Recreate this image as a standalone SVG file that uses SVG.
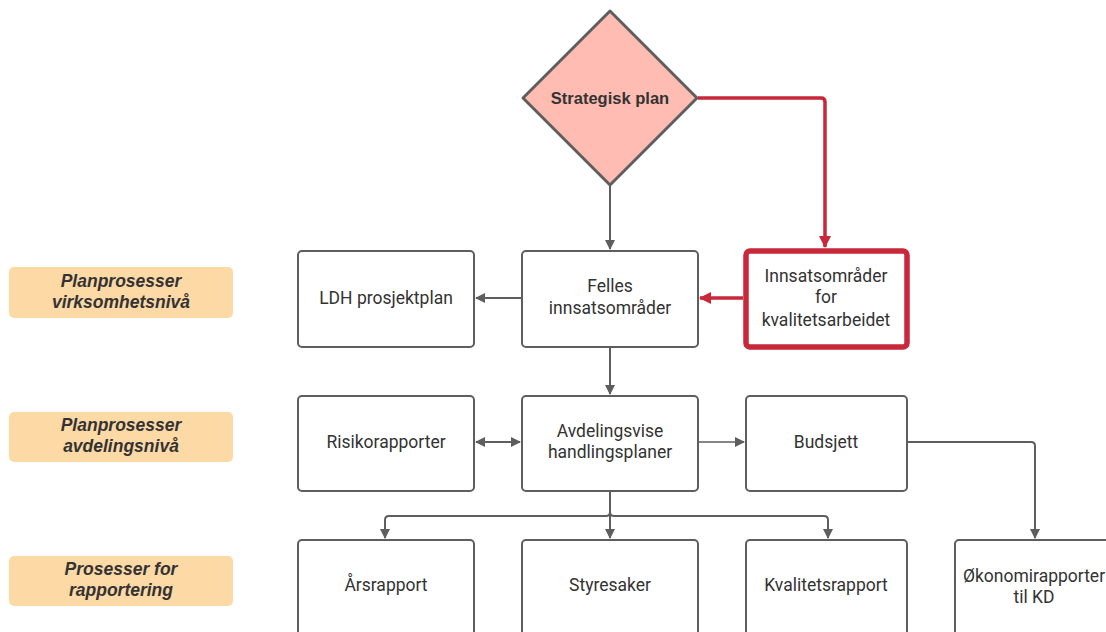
<svg xmlns="http://www.w3.org/2000/svg" width="1106" height="632" viewBox="0 0 1106 632">
<defs>
<style>
.box{fill:#fff;stroke:#5e5e5e;stroke-width:2}
.lab{fill:#fdd9a6;stroke:none}
.t{font-family:Roboto,"Liberation Sans",sans-serif;font-size:17.5px;fill:#333;text-anchor:middle}
.lt{font-family:"Liberation Sans",Arial,sans-serif;font-size:17.5px;font-weight:bold;font-style:italic;fill:#333;text-anchor:middle}
.c{fill:none;stroke:#5e5e5e;stroke-width:2}
.r{fill:none;stroke:#c8283a;stroke-width:3.5}
</style>
<marker id="a" markerWidth="10" markerHeight="10" refX="9" refY="5" orient="auto" markerUnits="userSpaceOnUse"><path d="M0,0 L10,5 L0,10 Z" fill="#5e5e5e"/></marker>
<marker id="as" markerWidth="10" markerHeight="10" refX="1" refY="5" orient="auto" markerUnits="userSpaceOnUse"><path d="M10,0 L0,5 L10,10 Z" fill="#5e5e5e"/></marker>
<marker id="ar" markerWidth="12" markerHeight="12" refX="11" refY="6" orient="auto" markerUnits="userSpaceOnUse"><path d="M0,0 L12,6 L0,12 Z" fill="#c8283a"/></marker>
</defs>
<rect width="1106" height="632" fill="#fff"/>
<g id="connectors">
<path class="c" d="M610,186 V249" marker-end="url(#a)"/>
<path class="r" d="M698,98 H821 Q825,98 825,102 V247" marker-end="url(#ar)"/>
<path class="r" d="M743,298 H700" marker-end="url(#ar)"/>
<path class="c" d="M522,298 H476" marker-end="url(#a)"/>
<path class="c" d="M610,348 V394" marker-end="url(#a)"/>
<path class="c" d="M476,442 H520" marker-start="url(#as)" marker-end="url(#a)"/>
<path class="c" d="M698,442 H744" marker-end="url(#a)" style="stroke-width:1.5"/>
<path class="c" d="M907,442 H1031 Q1035,442 1035,446 V538" marker-end="url(#a)"/>
<path class="c" d="M610,492 V538" marker-end="url(#a)"/>
<path class="c" d="M610,512 Q610,516 606,516 H389 Q385,516 385,520 V538" marker-end="url(#a)"/>
<path class="c" d="M610,512 Q610,516 614,516 H824 Q828,516 828,520 V538" marker-end="url(#a)"/>
</g>
<g id="lbl1"><rect class="lab" x="9" y="267" width="224" height="51" rx="5"/><text class="lt" x="121" y="287">Planprosesser</text><text class="lt" x="121" y="308">virksomhetsnivå</text></g>
<g id="lbl2"><rect class="lab" x="9" y="412" width="224" height="50" rx="5"/><text class="lt" x="121" y="431">Planprosesser</text><text class="lt" x="121" y="452">avdelingsnivå</text></g>
<g id="lbl3"><rect class="lab" x="9" y="556" width="224" height="50" rx="5"/><text class="lt" x="121" y="575">Prosesser for</text><text class="lt" x="121" y="596">rapportering</text></g>
<g id="strategisk"><path d="M610,11 L697,98 L610,185 L523,98 Z" fill="#ffbcb2" stroke="#5e5e5e" stroke-width="3" stroke-linejoin="round"/><text x="610" y="104" style="font-family:'Liberation Sans',Arial,sans-serif;font-weight:bold;font-size:16.5px;fill:#333;text-anchor:middle">Strategisk plan</text></g>
<g id="ldh"><rect class="box" x="298" y="251" width="176" height="96" rx="4"/><text class="t" x="386" y="304">LDH prosjektplan</text></g>
<g id="felles"><rect class="box" x="522" y="251" width="176" height="96" rx="4"/><text class="t" x="610" y="292">Felles</text><text class="t" x="610" y="314">innsatsområder</text></g>
<g id="innsats"><rect x="746" y="251" width="161" height="96" rx="4" fill="#fff" stroke="#c8283a" stroke-width="5.5"/><text class="t" x="826" y="282">Innsatsområder</text><text class="t" x="826" y="303">for</text><text class="t" x="826" y="326">kvalitetsarbeidet</text></g>
<g id="risiko"><rect class="box" x="298" y="396" width="176" height="95" rx="4"/><text class="t" x="386" y="448">Risikorapporter</text></g>
<g id="avd"><rect class="box" x="522" y="396" width="176" height="95" rx="4"/><text class="t" x="610" y="437">Avdelingsvise</text><text class="t" x="610" y="458">handlingsplaner</text></g>
<g id="budsjett"><rect class="box" x="746" y="396" width="161" height="95" rx="4"/><text class="t" x="826" y="448">Budsjett</text></g>
<g id="aars"><rect class="box" x="298" y="540" width="176" height="100" rx="4"/><text class="t" x="386" y="591">Årsrapport</text></g>
<g id="styre"><rect class="box" x="522" y="540" width="176" height="100" rx="4"/><text class="t" x="610" y="591">Styresaker</text></g>
<g id="kval"><rect class="box" x="746" y="540" width="161" height="100" rx="4"/><text class="t" x="826" y="591">Kvalitetsrapport</text></g>
<g id="okonomi"><rect class="box" x="955" y="540" width="170" height="100" rx="4"/><text class="t" x="1034" y="582">Økonomirapporter</text><text class="t" x="1034" y="603">til KD</text></g>
</svg>
